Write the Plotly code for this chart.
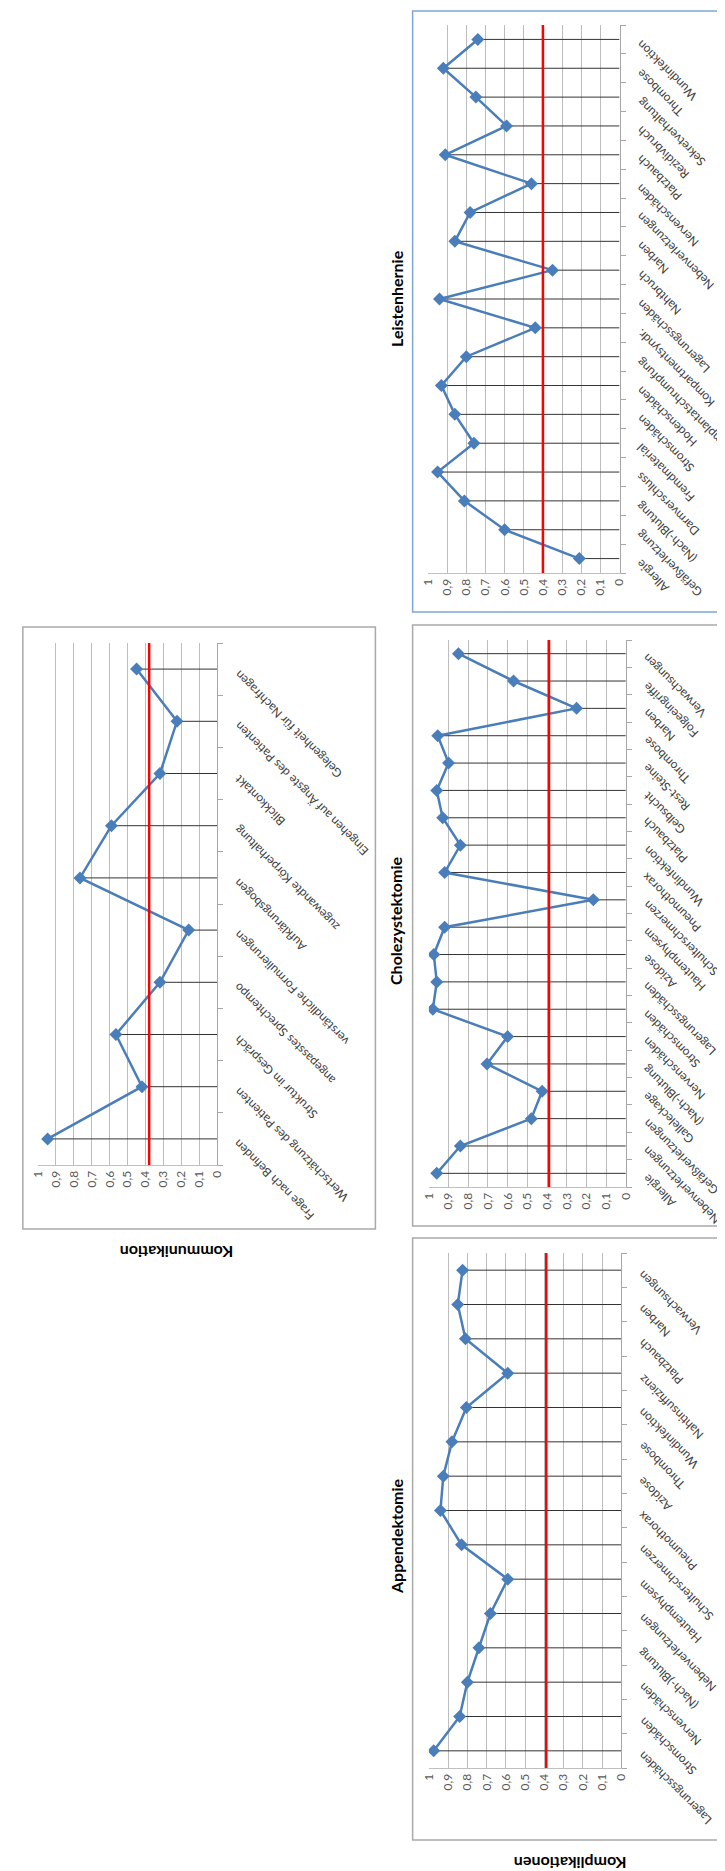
import plotly.graph_objects as go

W, H = 725, 1871

# ---------------- data (categories listed bottom -> top) ----------------
leisten_cats = ["Allergie", "Gefäßverletzung", "(Nach-)Blutung", "Darmverschluss", "Fremdmaterial",
                "Stromschäden", "Hodenschäden", "Implantatschrumpfung", "Kompartmentsyndr.",
                "Lagerungsschäden", "Nahtbruch", "Narben", "Nebenverletzungen", "Nervenschäden",
                "Platzbauch", "Rezidivbruch", "Sekretverhaltung", "Thrombose", "Wundinfektion"]
leisten_vals = [0.21, 0.60, 0.81, 0.95, 0.76, 0.86, 0.93, 0.80, 0.44, 0.94,
                0.35, 0.86, 0.78, 0.46, 0.91, 0.59, 0.75, 0.92, 0.74]
leisten_thr = 0.40

komm_cats = ["Frage nach Befinden", "Wertschätzung des Patienten", "Struktur im Gespräch",
             "angepasstes Sprechtempo", "verständliche Formulierungen", "Aufklärungsbogen",
             "zugewandte Körperhaltung", "Blickkontakt", "Eingehen auf Ängste des Patienten",
             "Gelegenheit für Nachfragen"]
komm_vals = [0.945, 0.42, 0.565, 0.32, 0.16, 0.765, 0.59, 0.32, 0.225, 0.45]
komm_thr = 0.38

chole_cats = ["Allergie", "Nebenverletzungen", "Gefäßverletzungen", "Galleleckage", "(Nach-)Blutung",
              "Nervenschäden", "Stromschäden", "Lagerungsschäden", "Azidose", "Hautemphysem",
              "Schulterschmerzen", "Pneumothorax", "Wundinfektion", "Platzbauch", "Gelbsucht",
              "Rest-Steine", "Thrombose", "Narben", "Folgeeingriffe", "Verwachsungen"]
chole_vals = [0.96, 0.84, 0.48, 0.425, 0.705, 0.60, 0.98, 0.96, 0.975, 0.92,
              0.165, 0.92, 0.84, 0.93, 0.96, 0.90, 0.955, 0.25, 0.57, 0.85]
chole_thr = 0.39

app_cats = ["Lagerungsschäden", "Stromschäden", "Nervenschäden", "(Nach-)Blutung", "Nebenverletzungen",
            "Hautemphysem", "Schulterschmerzen", "Pneumothorax", "Azidose", "Thrombose",
            "Wundinfektion", "Nahtinsuffizienz", "Platzbauch", "Narben", "Verwachsungen"]
app_vals = [0.975, 0.84, 0.80, 0.74, 0.68, 0.59, 0.83, 0.94, 0.925, 0.88,
            0.805, 0.59, 0.81, 0.85, 0.825]
app_thr = 0.39

value_ticks = [0, 0.1, 0.2, 0.3, 0.4, 0.5, 0.6, 0.7, 0.8, 0.9, 1]
value_tick_text = ["0", "0,1", "0,2", "0,3", "0,4", "0,5", "0,6", "0,7", "0,8", "0,9", "1"]

titles = ["Leistenhernie", "Kommunikation", "Cholezystektomie", "Appendektomie"]

# ---------------- layout geometry (pixels) ----------------
panels = [
    dict(cats=leisten_cats, vals=leisten_vals, thr=leisten_thr, px=(420.7, 616.3), py=(17, 565),
         box=(405, 3, 727, 604), bc="#7ea6d8", title=titles[0], tpos=(388, 290), tang=-90),
    dict(cats=komm_cats, vals=komm_vals, thr=komm_thr, px=(22.2, 205.7), py=(635, 1157),
         box=(7, 619, 367, 1221), bc="#a9a9a9", title=None),
    dict(cats=chole_cats, vals=chole_vals, thr=chole_thr, px=(421.6, 622.7), py=(632, 1179),
         box=(405, 617, 727, 1218), bc="#a9a9a9", title=titles[2], tpos=(388, 912), tang=-90),
    dict(cats=app_cats, vals=app_vals, thr=app_thr, px=(421.6, 618.1), py=(1245, 1760),
         box=(405, 1230, 727, 1832), bc="#a9a9a9", title=titles[3], tpos=(388, 1528), tang=-90),
]

FONT = "Lato"
BLUE = "#4a7ebb"

fig = go.Figure()
shapes = []
annotations = []


def px2x(v):
    return v / W


def px2y(v):
    return 1 - v / H


for i, p in enumerate(panels):
    n = i + 1
    xa = "x" if n == 1 else f"x{n}"
    ya = "y" if n == 1 else f"y{n}"
    xkey = "xaxis" if n == 1 else f"xaxis{n}"
    ykey = "yaxis" if n == 1 else f"yaxis{n}"

    # drop lines from each point to the category axis (value 0)
    dx, dy = [], []
    for c, v in zip(p["cats"], p["vals"]):
        dx += [v, 0, None]
        dy += [c, c, None]
    fig.add_trace(go.Scatter(x=dx, y=dy, mode="lines", xaxis=xa, yaxis=ya,
                             line=dict(color="#333333", width=1), hoverinfo="skip",
                             showlegend=False))
    # main series
    fig.add_trace(go.Scatter(x=p["vals"], y=p["cats"], mode="lines+markers", xaxis=xa, yaxis=ya,
                             line=dict(color=BLUE, width=2.5),
                             marker=dict(symbol="diamond", size=10, color=BLUE),
                             showlegend=False))

    fig.update_layout(**{
        xkey: dict(domain=[px2x(p["px"][0]), px2x(p["px"][1])], range=[1, 0], anchor=ya,
                   tickvals=value_ticks, ticktext=value_tick_text, tickangle=-90,
                   tickfont=dict(family=FONT, size=12, color="#595959"),
                   showgrid=True, gridcolor="#bdbdbd", gridwidth=1, zeroline=False,
                   showline=True, linecolor="#bfbfbf", linewidth=1, ticks="", fixedrange=True),
        ykey: dict(domain=[px2y(p["py"][1]), px2y(p["py"][0])], anchor=xa, side="right",
                   type="category", categoryorder="array", categoryarray=p["cats"],
                   range=[-0.5, len(p["cats"]) - 0.5], showgrid=False, zeroline=False,
                   showline=True, linecolor="#a6a6a6", linewidth=1,
                   ticks="outside", tickson="boundaries", ticklen=5, tickcolor="#a6a6a6",
                   showticklabels=False, fixedrange=True),
    })

    # threshold line
    shapes.append(dict(type="line", xref=xa, yref=f"{ya} domain", x0=p["thr"], x1=p["thr"],
                       y0=0, y1=1, line=dict(color="#ff0000", width=2.5), layer="above"))
    # panel frame
    bx0, by0, bx1, by1 = p["box"]
    shapes.append(dict(type="rect", xref="paper", yref="paper", x0=px2x(bx0), x1=px2x(bx1),
                       y0=px2y(by1), y1=px2y(by0), line=dict(color=p["bc"], width=1.5),
                       layer="above"))

    # rotated category labels
    for c in p["cats"]:
        annotations.append(dict(x=0, y=c, xref=xa, yref=ya, text=c, showarrow=False,
                                textangle=-135, xanchor="left", yanchor="top",
                                xshift=11, yshift=5,
                                font=dict(family=FONT, size=12, color="#404040")))
    if p.get("title"):
        tx, ty = p["tpos"]
        annotations.append(dict(x=px2x(tx), y=px2y(ty), xref="paper", yref="paper",
                                text=f"<b>{p['title']}</b>", showarrow=False, textangle=p["tang"],
                                xanchor="center", yanchor="middle",
                                font=dict(family=FONT, size=16, color="#000000")))

# upside-down group labels
annotations.append(dict(x=px2x(164), y=px2y(1245), xref="paper", yref="paper",
                        text="<b>Kommunikation</b>", showarrow=False, textangle=180,
                        xanchor="center", yanchor="middle",
                        font=dict(family=FONT, size=16, color="#000000")))
annotations.append(dict(x=px2x(566), y=px2y(1856), xref="paper", yref="paper",
                        text="<b>Komplikationen</b>", showarrow=False, textangle=180,
                        xanchor="center", yanchor="middle",
                        font=dict(family=FONT, size=16, color="#000000")))

fig.update_layout(width=W, height=H, margin=dict(l=0, r=0, t=0, b=0),
                  paper_bgcolor="white", plot_bgcolor="white",
                  shapes=shapes, annotations=annotations, showlegend=False)

fig.write_html("out.html")
